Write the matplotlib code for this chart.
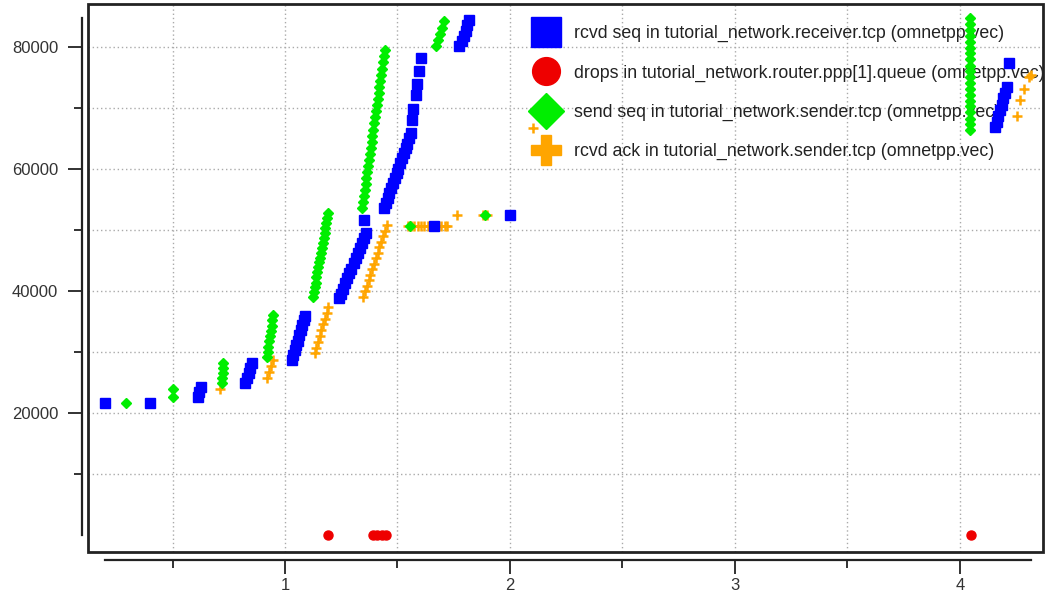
import matplotlib
matplotlib.use("Agg")
import matplotlib.pyplot as plt
from matplotlib.lines import Line2D
from matplotlib.patches import Rectangle
from matplotlib.ticker import FixedLocator

plt.rcParams['font.family'] = ['Liberation Sans', 'DejaVu Sans']

# rcvd seq in receiver.tcp (blue squares)
rcvd_seq_t = [0.200, 0.400,
              0.612, 0.618, 0.625,
              0.822, 0.830, 0.838, 0.845, 0.853,
              1.030, 1.037, 1.043, 1.050, 1.057, 1.063, 1.070, 1.077, 1.083, 1.090,
              1.240, 1.249, 1.258, 1.268, 1.277, 1.286, 1.295, 1.305, 1.314, 1.323, 1.332, 1.341, 1.350, 1.360,
              1.351,
              1.440, 1.448, 1.456, 1.464, 1.472, 1.480, 1.488, 1.496, 1.504, 1.512, 1.520, 1.528, 1.536, 1.544, 1.552, 1.560,
              1.563, 1.570, 1.581, 1.588, 1.596, 1.603,
              1.775, 1.785, 1.795, 1.803, 1.811, 1.819,
              1.664, 2.000,
              4.156, 4.164, 4.171, 4.179, 4.186, 4.194, 4.201, 4.209, 4.218]
rcvd_seq_v = [21700, 21700,
              22700, 23500, 24200,
              24900, 25700, 26500, 27400, 28200,
              28700, 29500, 30300, 31100, 31900, 32800, 33600, 34400, 35200, 36000,
              38800, 39600, 40400, 41300, 42100, 42900, 43700, 44600, 45400, 46200, 47000, 47900, 48700, 49500,
              51600,
              53600, 54400, 55200, 56100, 56900, 57700, 58500, 59300, 60100, 61000, 61800, 62600, 63400, 64200, 65100, 65900,
              68000, 69950, 72100, 74000, 76100, 78300,
              80150, 81000, 81900, 82700, 83600, 84400,
              50650, 52570,
              66900, 67800, 68800, 69700, 70600, 71600, 72500, 73400, 77400]

# drops in router.ppp[1].queue (red circles)
drops_t = [1.190, 1.390, 1.410, 1.430, 1.450, 4.050]
drops_v = [0, 0, 0, 0, 0, 0]

# send seq in sender.tcp (green diamonds)
send_seq_t = [0.293, 0.500, 0.500,
              0.722, 0.722, 0.723, 0.724, 0.724,
              0.919, 0.923, 0.926, 0.930, 0.933, 0.937, 0.941, 0.944, 0.948,
              1.124, 1.128, 1.132, 1.136, 1.140, 1.144, 1.148, 1.152, 1.156, 1.160, 1.164, 1.168, 1.172, 1.176, 1.180, 1.184, 1.188, 1.191,
              1.342, 1.346, 1.350, 1.354, 1.358, 1.362, 1.366, 1.369, 1.373, 1.377, 1.381, 1.385, 1.389, 1.393,
              1.397, 1.401, 1.405, 1.409, 1.413, 1.416, 1.420, 1.424, 1.428, 1.432, 1.436, 1.440, 1.444,
              1.671, 1.680, 1.689, 1.698, 1.707,
              1.556, 1.890,
              4.046, 4.046, 4.046, 4.046, 4.046, 4.046, 4.046, 4.046, 4.046, 4.046,
              4.046, 4.046, 4.046, 4.046, 4.046, 4.046, 4.046, 4.046, 4.046, 4.046]
send_seq_v = [21700, 22700, 23900,
              24900, 25700, 26500, 27400, 28200,
              29200, 30100, 30900, 31800, 32600, 33500, 34300, 35200, 36100,
              39000, 39800, 40600, 41400, 42300, 43100, 43900, 44700, 45500, 46300, 47100, 47900, 48700, 49600, 50400, 51200, 52000, 52800,
              53600, 54600, 55600, 56600, 57600, 58600, 59500, 60500, 61500, 62500, 63500, 64500, 65500, 66500,
              67500, 68500, 69500, 70500, 71500, 72500, 73500, 74500, 75500, 76500, 77500, 78500, 79500,
              80150, 81200, 82200, 83200, 84250,
              50650, 52570,
              66400, 67400, 68300, 69300, 70300, 71200, 72200, 73200, 74100, 75100,
              76100, 77000, 78000, 79000, 79900, 80900, 81900, 82800, 83800, 84750]

# rcvd ack in sender.tcp (orange pluses)
rcvd_ack_t = [0.711,
              0.919, 0.929, 0.938, 0.948,
              1.133, 1.140, 1.148, 1.155, 1.162, 1.170, 1.177, 1.185, 1.192,
              1.348, 1.356, 1.364, 1.372, 1.380, 1.388, 1.396, 1.404, 1.412, 1.420, 1.428, 1.436, 1.444, 1.452,
              1.547, 1.560, 1.575, 1.590, 1.605, 1.620, 1.635, 1.650, 1.665, 1.680, 1.695, 1.710, 1.720,
              1.763, 1.880, 1.900,
              2.102,
              4.253, 4.267, 4.284, 4.307, 4.316]
rcvd_ack_v = [23900,
              25700, 26700, 27700, 28700,
              29800, 30750, 31700, 32650, 33600, 34550, 35500, 36450, 37400,
              39100, 40000, 40900, 41800, 42700, 43600, 44500, 45400, 46300, 47200, 48100, 49000, 49900, 50800,
              50650, 50650, 50650, 50650, 50650, 50650, 50650, 50650, 50650, 50650, 50650, 50650, 50650,
              52570, 52570, 52570,
              66700,
              68800, 71300, 73100, 75100, 75400]

labels = ["rcvd seq in tutorial_network.receiver.tcp (omnetpp.vec)",
          "drops in tutorial_network.router.ppp[1].queue (omnetpp.vec)",
          "send seq in tutorial_network.sender.tcp (omnetpp.vec)",
          "rcvd ack in tutorial_network.sender.tcp (omnetpp.vec)"]

blue = '#0000ff'
red = '#ee0000'
green = '#00ee00'
orange = '#ffa500'

fig = plt.figure(figsize=(10.48, 6.06), dpi=100)
ax = fig.add_axes([0.084, 0.089, 0.911, 0.904])

ax.plot(rcvd_ack_t, rcvd_ack_v, ls='none', marker='+', color=orange, ms=7.5, mew=1.8, zorder=3)
ax.plot(rcvd_seq_t, rcvd_seq_v, ls='none', marker='s', color=blue, ms=6.5, zorder=4)
ax.plot(drops_t, drops_v, ls='none', marker='o', color=red, ms=6.5, zorder=4)
ax.plot(send_seq_t, send_seq_v, ls='none', marker='D', color=green, ms=5, zorder=5)

ax.set_xlim(0.1244, 4.369)
ax.set_ylim(-2787, 87050)

# R style axes: box plus detached axis lines
for s in ['top', 'right']:
    ax.spines[s].set_visible(False)
ax.spines['left'].set_position(('outward', 4.5))
ax.spines['bottom'].set_position(('outward', 5.8))
for s in ['left', 'bottom']:
    ax.spines[s].set_linewidth(1.6)
    ax.spines[s].set_color('#222222')
all_t = rcvd_seq_t + drops_t + send_seq_t + rcvd_ack_t
all_v = rcvd_seq_v + drops_v + send_seq_v + rcvd_ack_v
ax.spines['bottom'].set_bounds(min(all_t), max(all_t))
ax.spines['left'].set_bounds(min(all_v), max(all_v))
ax.add_patch(Rectangle((0, 0), 1, 1, transform=ax.transAxes, fill=False,
                       lw=2, edgecolor='#222222', clip_on=False, zorder=6))

ax.xaxis.set_major_locator(FixedLocator([1, 2, 3, 4]))
ax.xaxis.set_minor_locator(FixedLocator([0.5, 1.5, 2.5, 3.5]))
ax.yaxis.set_major_locator(FixedLocator([20000, 40000, 60000, 80000]))
ax.yaxis.set_minor_locator(FixedLocator([10000, 30000, 50000, 70000]))
ax.tick_params(which='major', length=10, width=1.3, color='#222222', labelsize=12,
               labelcolor='#333333')
ax.tick_params(which='minor', length=6, width=1.3, color='#222222')
ax.tick_params(axis='y', which='major', pad=7)
ax.tick_params(axis='x', which='major', pad=3)
ax.grid(True, which='both', ls=(0, (1, 2)), color='#aaaaaa', lw=1)
ax.set_axisbelow(True)

handles = [Line2D([], [], ls='none', marker='s', color=blue, ms=21),
           Line2D([], [], ls='none', marker='o', color=red, ms=20),
           Line2D([], [], ls='none', marker='D', color=green, ms=18),
           Line2D([], [], ls='none', marker='P', color=orange, ms=22)]
leg = ax.legend(handles, labels, loc='upper left', bbox_to_anchor=(0.465, 0.962),
                frameon=False, fontsize=12.8, borderpad=0, borderaxespad=0,
                handlelength=1.56, handletextpad=0.78, labelspacing=1.25,
                labelcolor='#222222')
leg.set_zorder(2.5)

fig.savefig('out.png', dpi=100)
